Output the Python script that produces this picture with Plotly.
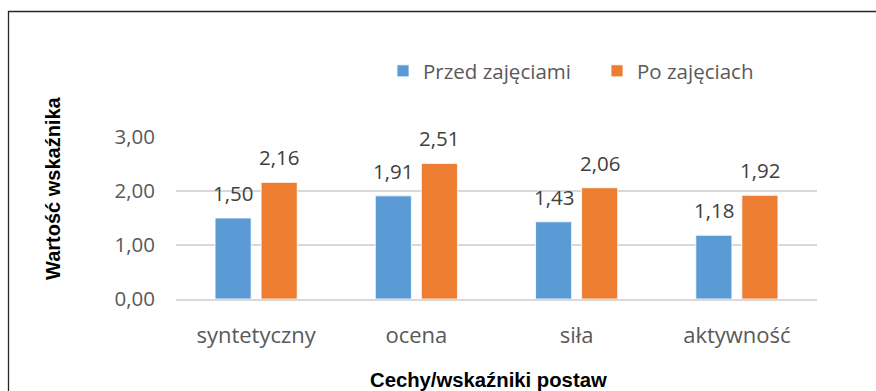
import plotly.graph_objects as go

# Data
categories = ["syntetyczny", "ocena", "siła", "aktywność"]
przed = [1.50, 1.91, 1.43, 1.18]
po = [2.16, 2.51, 2.06, 1.92]
series_names = ["Przed zajęciami", "Po zajęciach"]
y_ticks = [0, 1, 2, 3]

BLUE = "#5B9BD5"
ORANGE = "#ED7D31"
GREY_TEXT = "#595959"
GRID = "#D9D9D9"

W, H = 876, 391
ML, MR, MT, MB = 176, 59, 137, 92
PW, PH = W - ML - MR, H - MT - MB


def px_x(px):
    return (px - ML) / PW


def px_y(py):
    return (H - MB - py) / PH


fig = go.Figure()
fig.add_trace(go.Bar(x=categories, y=przed, name=series_names[0],
                     marker=dict(color=BLUE, line=dict(color="white", width=0.8)),
                     legend="legend"))
fig.add_trace(go.Bar(x=categories, y=po, name=series_names[1],
                     marker=dict(color=ORANGE, line=dict(color="white", width=0.8)),
                     legend="legend2"))

LABEL_FONT = dict(family="Open Sans", size=20.5, color="#404040")


def fmt(v):
    return f"{v:.2f}".replace(".", ",")


annotations = []
for cat, a, b in zip(categories, przed, po):
    annotations.append(dict(x=cat, y=a, xref="x", yref="y", text=fmt(a), showarrow=False,
                            xshift=-23, yshift=25, yanchor="middle", font=LABEL_FONT))
    annotations.append(dict(x=cat, y=b, xref="x", yref="y", text=fmt(b), showarrow=False,
                            xshift=23, yshift=25, yanchor="middle", font=LABEL_FONT))

# axis titles
annotations.append(dict(text="Cechy/wskaźniki postaw", xref="paper", yref="paper",
                        x=px_x(488), y=px_y(380), showarrow=False, xanchor="center",
                        yanchor="middle",
                        font=dict(family="Liberation Sans", size=20.3, color="#000000",
                                  weight="bold")))
annotations.append(dict(text="Wartość wskaźnika", xref="paper", yref="paper",
                        x=px_x(53), y=px_y(188), showarrow=False, textangle=-90,
                        xanchor="center", yanchor="middle",
                        font=dict(family="Liberation Sans", size=20, color="#000000",
                                  weight="bold")))

legend_font = dict(family="Open Sans", size=20.5, color=GREY_TEXT)

fig.update_layout(
    width=W, height=H,
    margin=dict(l=ML, r=MR, t=MT, b=MB),
    paper_bgcolor="white", plot_bgcolor="white",
    separators=", ",
    barmode="group", bargap=0.425, bargroupgap=0.217,
    showlegend=True,
    legend=dict(orientation="h", x=px_x(383), y=px_y(71), xanchor="left",
                yanchor="middle", font=legend_font, bgcolor="rgba(0,0,0,0)"),
    legend2=dict(orientation="h", x=px_x(597), y=px_y(71), xanchor="left",
                 yanchor="middle", font=legend_font, bgcolor="rgba(0,0,0,0)"),
    annotations=annotations,
    shapes=[dict(type="rect", xref="paper", yref="paper",
                 x0=px_x(8.5), x1=px_x(W + 20), y0=px_y(H + 20), y1=px_y(11.5),
                 line=dict(color="#262626", width=1.3), fillcolor="rgba(0,0,0,0)",
                 layer="below")],
    xaxis=dict(showgrid=False, showline=True, linecolor=GRID, linewidth=1.5,
               ticks="", ticklabelstandoff=16,
               tickfont=dict(family="Open Sans", size=22, color=GREY_TEXT)),
    yaxis=dict(range=[0, 3], tickvals=y_ticks, tickformat=".2f",
               showgrid=True, gridcolor=GRID, gridwidth=1.5, zeroline=False,
               showline=False, ticks="", ticklabelstandoff=20,
               tickfont=dict(family="Open Sans", size=20.5, color=GREY_TEXT)),
)

for t in fig.data:
    t.cliponaxis = False

fig.write_html("out.html")
